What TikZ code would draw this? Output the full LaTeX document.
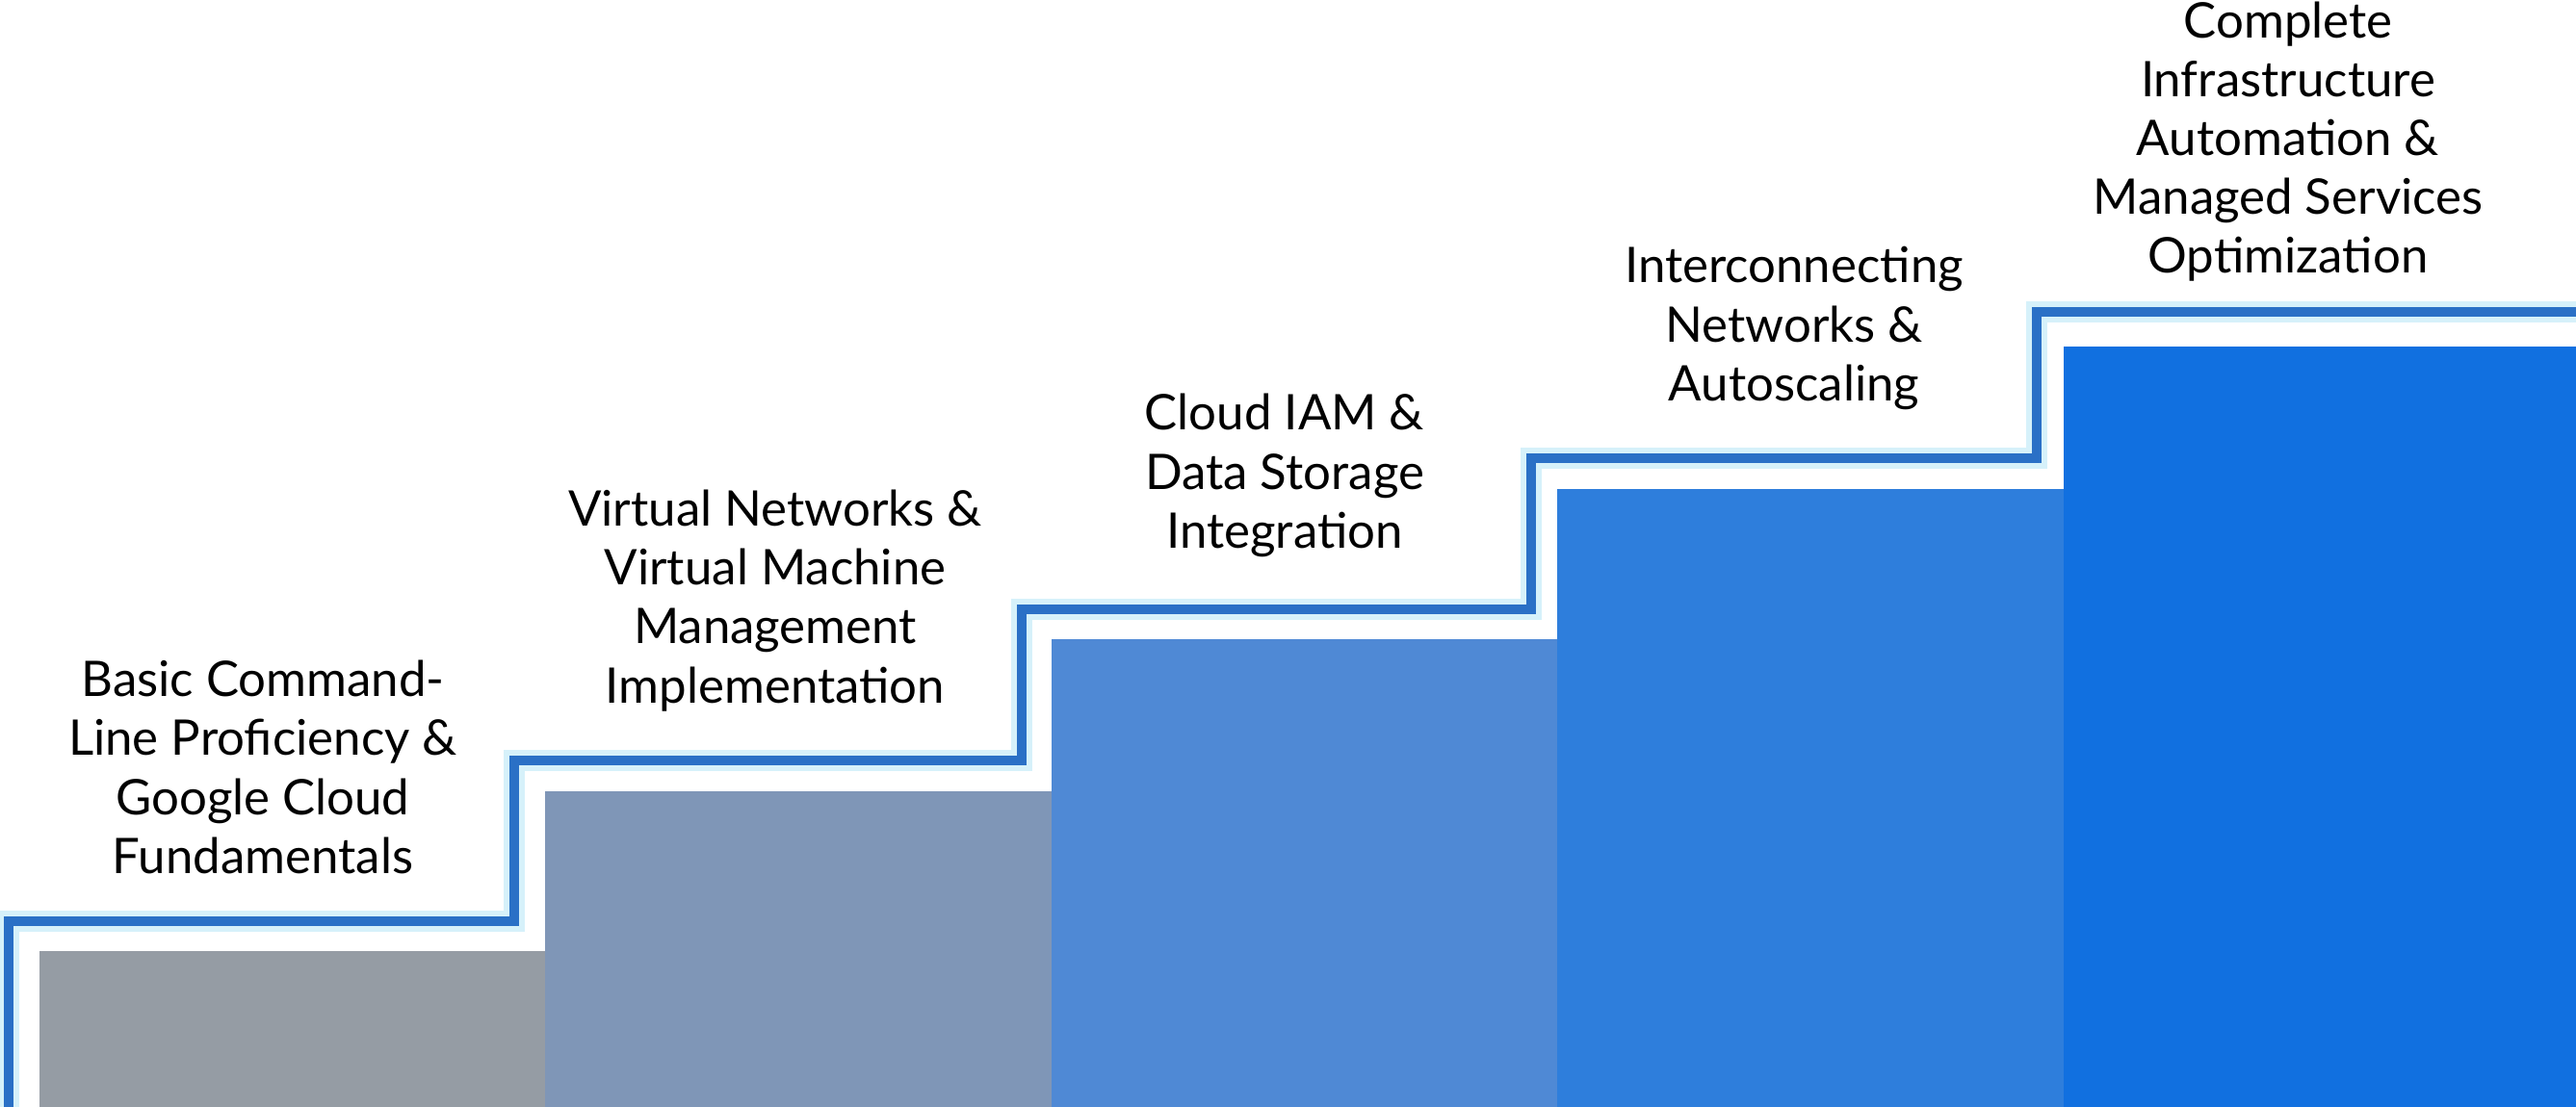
\documentclass[tikz,border=0pt]{standalone}
\usepackage{fontspec}
\setmainfont{Lato}
\definecolor{stairline}{HTML}{2A70C6}
\definecolor{glow}{HTML}{D6F1FA}
\definecolor{barA}{HTML}{959CA4}
\definecolor{barB}{HTML}{7F96B7}
\definecolor{barC}{HTML}{4F89D5}
\definecolor{barD}{HTML}{2E7EDC}
\definecolor{barE}{HTML}{1170E0}
\tikzset{
  lbl/.style={align=center, font=\fontsize{14.5}{17.4}\selectfont, text=black, inner sep=0pt},
  stairpath/.style={draw=stairline, line width=2.9pt, line join=miter},
  glowpath/.style={draw=glow, line width=6pt, line join=miter}
}
\begin{document}
\begin{tikzpicture}
\useasboundingbox (0,0) rectangle (26.75,11.5);
\fill[white] (0,0) rectangle (26.75,11.5);
% bars
\fill[barA] (0.41,0) rectangle (5.66,1.62);
\fill[barB] (5.66,0) rectangle (10.92,3.28);
\fill[barC] (10.92,0) rectangle (16.17,4.86);
\fill[barD] (16.17,0) rectangle (21.43,6.42);
\fill[barE] (21.43,0) rectangle (26.75,7.90);
% staircase line
\path[glowpath] (0.09,0) -- (0.09,1.93) -- (5.34,1.93) -- (5.34,3.60) -- (10.61,3.60) -- (10.61,5.17) -- (15.90,5.17) -- (15.90,6.74) -- (21.15,6.74) -- (21.15,8.26) -- (26.75,8.26);
\path[stairpath] (0.09,0) -- (0.09,1.93) -- (5.34,1.93) -- (5.34,3.60) -- (10.61,3.60) -- (10.61,5.17) -- (15.90,5.17) -- (15.90,6.74) -- (21.15,6.74) -- (21.15,8.26) -- (26.75,8.26);
% labels
\node[lbl] (t1) at (2.73,3.53) {Basic Command-\\Line Proficiency \&\\Google Cloud\\Fundamentals};
\node[lbl] (t2) at (8.05,5.26) {Virtual Networks \&\\Virtual Machine\\Management\\Implementation};
\node[lbl] (t3) at (13.34,6.56) {Cloud IAM \&\\Data Storage\\Integration};
\node[lbl] (t4) at (18.63,8.09) {Interconnecting\\Networks \&\\Autoscaling};
\node[lbl] (t5) at (23.76,10.03) {Complete\\Infrastructure\\Automation \&\\Managed Services\\Optimization};
\end{tikzpicture}
\end{document}
